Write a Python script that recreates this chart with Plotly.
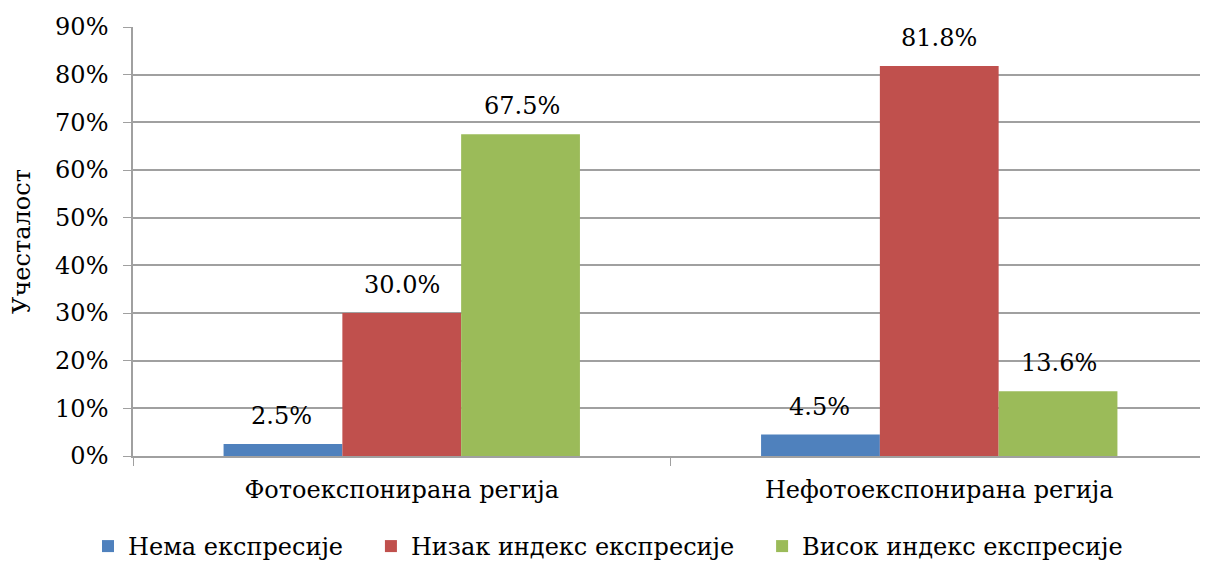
import plotly.graph_objects as go

categories = ["Фотоекспонирана регија", "Нефотоекспонирана регија"]
series_names = ["Нема експресије", "Низак индекс експресије", "Висок индекс експресије"]
nema = [0.025, 0.045]
nizak = [0.300, 0.818]
visok = [0.675, 0.136]
colors = ["#4F81BD", "#C0504D", "#9BBB59"]
y_ticks = [0, 0.1, 0.2, 0.3, 0.4, 0.5, 0.6, 0.7, 0.8, 0.9]
y_title = "Учесталост"

FONT = "DejaVu Serif"
FS = 24
BAR_PX = 120  # approx bar width in px, for label placement

fig = go.Figure()
all_series = [nema, nizak, visok]
for i, (name, vals, col) in enumerate(zip(series_names, all_series, colors)):
    pad = "\u00a0" * 3 if i < len(series_names) - 1 else ""
    fig.add_trace(go.Bar(
        x=categories, y=vals, name=name + pad, marker=dict(color=col, line=dict(width=0)),
    ))

for si, vals in enumerate(all_series):
    for ci, v in enumerate(vals):
        fig.add_annotation(x=ci, y=v, xref="x", yref="y", text=f"{v*100:.1f}%",
                           showarrow=False, yanchor="bottom", yshift=12,
                           xshift=(si - 1) * BAR_PX,
                           font=dict(family=FONT, size=FS, color="black"))

fig.update_layout(
    width=1200, height=554,
    margin=dict(l=125, r=0, t=19, b=106),
    paper_bgcolor="white", plot_bgcolor="white",
    barmode="group", bargap=0.337, bargroupgap=0,
    font=dict(family=FONT, size=FS, color="black"),
    showlegend=True,
    legend=dict(orientation="h", x=0.5, xanchor="center", xref="container",
                y=0.028, yanchor="middle", yref="container",
                font=dict(family=FONT, size=FS, color="black"),
                itemwidth=30, traceorder="normal"),
    xaxis=dict(range=[-0.5, 1.5], showline=True, linecolor="#A0A0A0", linewidth=1.5,
               ticks="outside", tickson="boundaries", ticklen=8, tickcolor="#A0A0A0",
               automargin=False, ticklabelstandoff=11,
               tickfont=dict(family=FONT, size=FS, color="black"), showgrid=False),
    yaxis=dict(range=[0, 0.9], tickvals=y_ticks, tickformat=".0%",
               showline=True, linecolor="#A0A0A0", linewidth=1.5,
               ticks="outside", ticklen=8, tickcolor="#A0A0A0",
               showgrid=True, gridcolor="#A0A0A0", gridwidth=1.5, zeroline=False,
               automargin=False, ticklabelstandoff=10,
               tickfont=dict(family=FONT, size=FS, color="black"),
               title=dict(text=y_title, font=dict(family=FONT, size=FS, color="black"), standoff=18)),
)

fig.write_html("out.html")
